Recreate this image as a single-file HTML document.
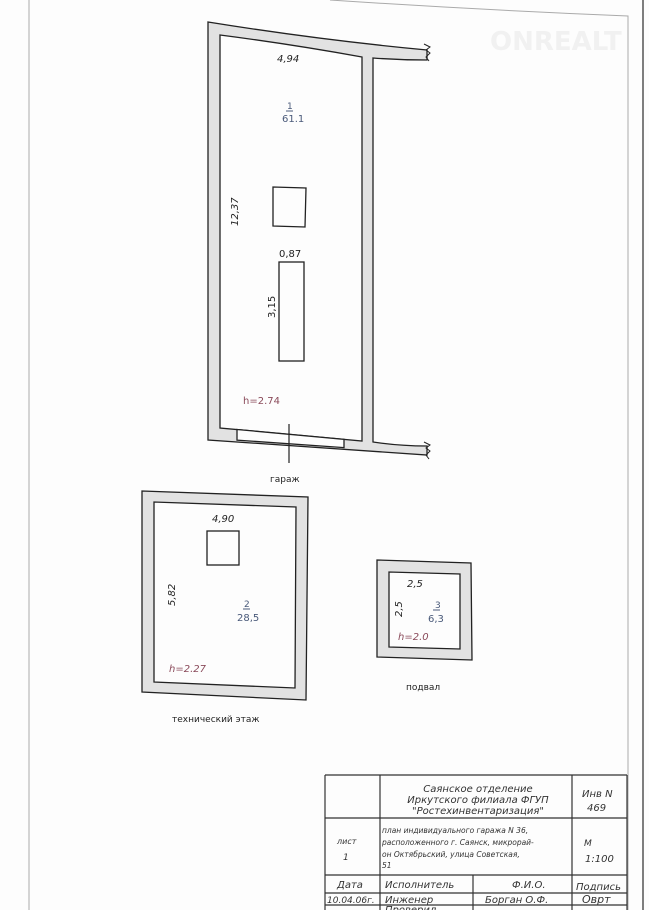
<!DOCTYPE html>
<html><head><meta charset="utf-8"><style>
html,body{margin:0;padding:0;background:#fff}
svg{display:block}
text{font-family:"DejaVu Sans","Liberation Sans",sans-serif;}
</style></head><body>
<svg width="649" height="910" viewBox="0 0 649 910" xmlns="http://www.w3.org/2000/svg">
<rect width="649" height="910" fill="#fdfdfd"/>
<line x1="29" y1="0" x2="29" y2="910" stroke="#aaa" stroke-width="1"/>
<path d="M330 0 Q480 10 628 16 L628 910" fill="none" stroke="#aaa" stroke-width="1"/>
<line x1="643" y1="0" x2="643" y2="910" stroke="#555" stroke-width="1.5"/>
<text x="490" y="50" font-size="26" font-weight="bold" fill="#f1f1f1" font-family="Liberation Sans,sans-serif">ONREALT</text>

<g stroke="#222" stroke-width="1.3" fill="#e2e2e2">
<path d="M208 22 Q320 40 427 50 L427 60 Q400 60 373 58 L373 442 Q400 446 427 446 L427 455 L208 440 Z M220 35 L220 428 L362 441 L362 57 Q290 44 220 35 Z" fill-rule="evenodd"/>
<path d="M237 429.5 L344 439.3 L344 447.6 L237 440.1 Z" fill="#fdfdfd"/>
</g>
<path d="M424 44 l6 3 -4 3 4 3 -4 4 3 4" fill="none" stroke="#222" stroke-width="1"/>
<path d="M424 442 l6 3 -4 3 4 3 -4 4 3 4" fill="none" stroke="#222" stroke-width="1"/>
<line x1="289" y1="424" x2="289" y2="463" stroke="#222" stroke-width="1.2"/>
<g fill="none" stroke="#222" stroke-width="1.3">
<path d="M273 187 L306 188 L305 227 L273 226 Z"/>
<rect x="279" y="262" width="25" height="99"/>
</g>
<g font-size="10" fill="#222">
<text x="277" y="62" font-style="italic">4,94</text>
<text x="287" y="109" fill="#4a5a7a" font-size="9">1</text>
<line x1="286" y1="111" x2="293" y2="111" stroke="#4a5a7a"/>
<text x="282" y="122" fill="#4a5a7a">61.1</text>
<text x="0" y="0" transform="translate(238,226) rotate(-90)" font-style="italic">12,37</text>
<text x="279" y="257">0,87</text>
<text x="0" y="0" transform="translate(275,318) rotate(-90)">3,15</text>
<text x="243" y="404" fill="#8a4a5a">h=2.74</text>
<text x="270" y="482" font-size="9">гараж</text>
</g>

<path d="M142 491 L308 497 L306 700 L142 692 Z M154 502 L154 682 L295 688 L296 507 Z" fill="#e2e2e2" fill-rule="evenodd" stroke="#222" stroke-width="1.3"/>
<rect x="207" y="531" width="32" height="34" fill="none" stroke="#222" stroke-width="1.3"/>
<g font-size="10" fill="#222">
<text x="212" y="522" font-style="italic">4,90</text>
<text x="0" y="0" transform="translate(175,606) rotate(-90)" font-style="italic">5,82</text>
<text x="244" y="607" fill="#4a5a7a" font-size="9">2</text>
<line x1="243" y1="609" x2="250" y2="609" stroke="#4a5a7a"/>
<text x="237" y="621" fill="#4a5a7a">28,5</text>
<text x="169" y="672" fill="#8a4a5a" font-style="italic">h=2.27</text>
<text x="172" y="722" font-size="9">технический этаж</text>
</g>

<path d="M377 560 L471 563 L472 660 L377 657 Z M389 572 L389 647 L460 649 L460 574 Z" fill="#e2e2e2" fill-rule="evenodd" stroke="#222" stroke-width="1.3"/>
<g font-size="10" fill="#222">
<text x="407" y="587" font-style="italic">2,5</text>
<text x="0" y="0" transform="translate(402,617) rotate(-90)" font-style="italic">2,5</text>
<text x="435" y="608" fill="#4a5a7a" font-size="9">3</text>
<line x1="433" y1="610" x2="440" y2="610" stroke="#4a5a7a"/>
<text x="428" y="622" fill="#4a5a7a">6,3</text>
<text x="398" y="640" fill="#8a4a5a" font-style="italic">h=2.0</text>
<text x="406" y="690" font-size="9">подвал</text>
</g>

<g stroke="#333" stroke-width="1.2" fill="none">
<line x1="325" y1="775" x2="627" y2="775"/>
<line x1="325" y1="818" x2="627" y2="818"/>
<line x1="325" y1="875" x2="627" y2="875"/>
<line x1="325" y1="893" x2="627" y2="893"/>
<line x1="325" y1="905" x2="627" y2="905"/>
<line x1="325" y1="775" x2="325" y2="910"/>
<line x1="380" y1="775" x2="380" y2="910"/>
<line x1="473" y1="875" x2="473" y2="910"/>
<line x1="572" y1="775" x2="572" y2="910"/>
<line x1="627" y1="775" x2="627" y2="910"/>
</g>
<g font-size="10" fill="#333" font-style="italic">
<text x="478" y="792" text-anchor="middle">Саянское отделение</text>
<text x="478" y="803" text-anchor="middle">Иркутского филиала ФГУП</text>
<text x="478" y="814" text-anchor="middle">"Ростехинвентаризация"</text>
<text x="582" y="797">Инв  N</text>
<text x="587" y="811">469</text>
<text x="382" y="833" font-size="7.5">план индивидуального гаража  N 36,</text>
<text x="382" y="845" font-size="7.5">расположенного г. Саянск, микрорай-</text>
<text x="382" y="857" font-size="7.5">он Октябрьский, улица Советская,</text>
<text x="382" y="868" font-size="7.5">51</text>
<text x="337" y="844" font-size="8">лист</text>
<text x="343" y="860" font-size="9">1</text>
<text x="584" y="846" font-size="9">М</text>
<text x="585" y="862">1:100</text>
<text x="337" y="888">Дата</text>
<text x="385" y="888">Исполнитель</text>
<text x="512" y="888">Ф.И.О.</text>
<text x="576" y="890">Подпись</text>
<text x="327" y="903" font-size="9">10.04.06г.</text>
<text x="385" y="903">Инженер</text>
<text x="485" y="903">Борган О.Ф.</text>
<text x="582" y="903" font-size="11">Оврт</text>
<text x="385" y="913">Проверил</text>
</g>
</svg>
</body></html>
